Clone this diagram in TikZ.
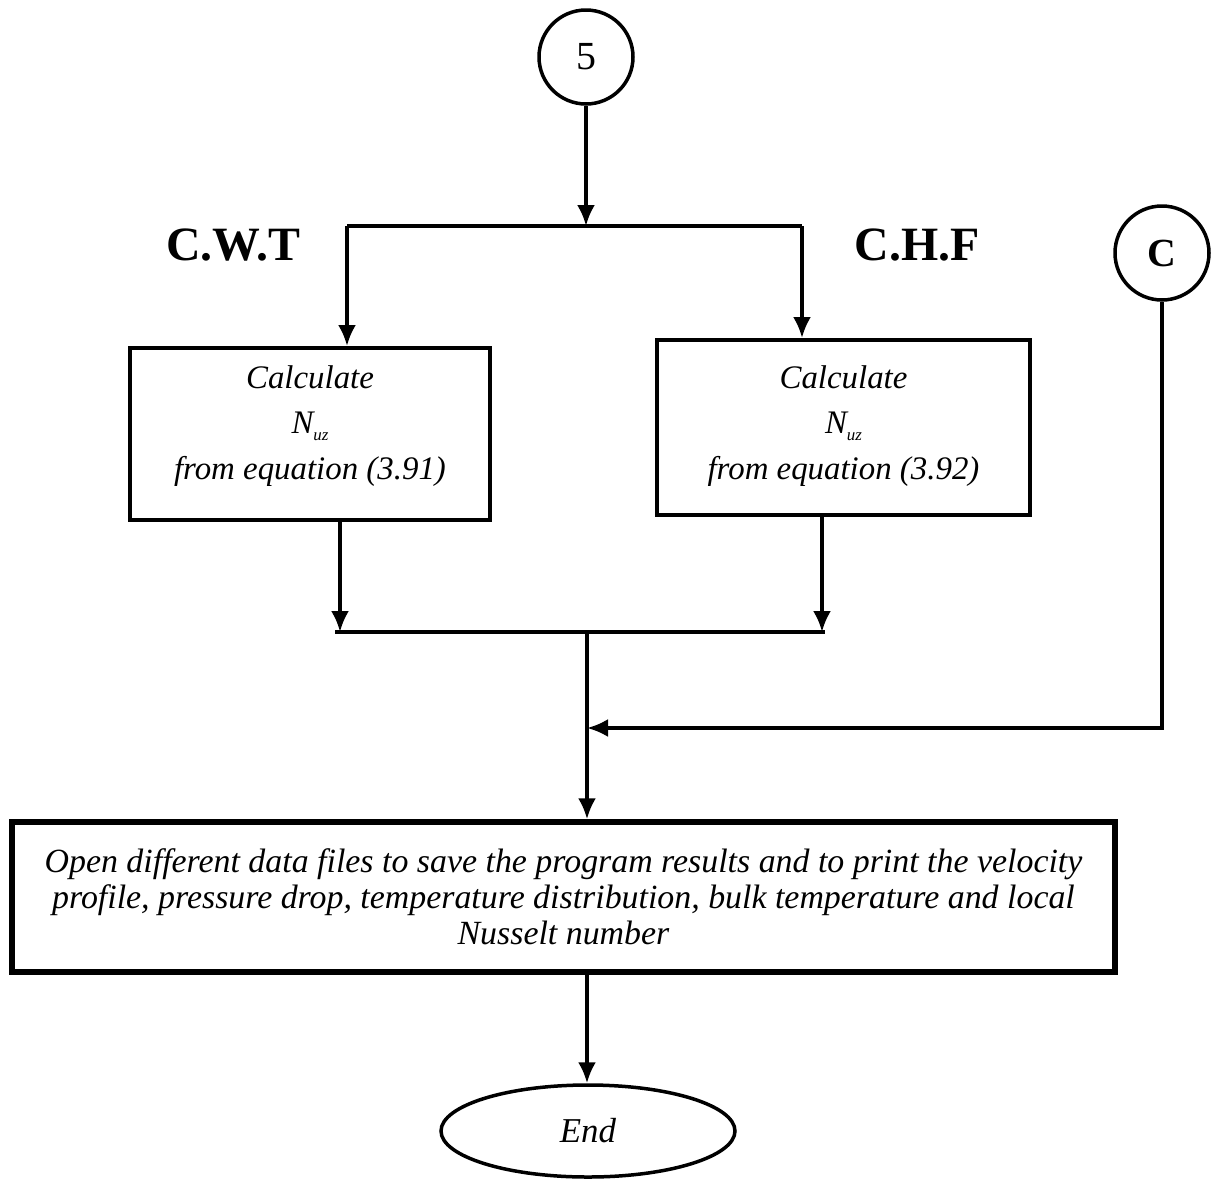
\documentclass[tikz,border=0pt]{standalone}
\usepackage{fontspec}
\setmainfont{Liberation Serif}
\usepackage{tikz}
\usetikzlibrary{shapes,arrows.meta,positioning,calc}

\newcommand{\nuz}{N\raisebox{-7bp}{\fontsize{17}{17}\selectfont uz}}

\begin{document}
\begin{tikzpicture}[line join=miter,x=1bp,y=-1bp,
  flow/.style={-{Latex[length=21bp,width=18bp]}},
  conn/.style={circle,draw,line width=3.5bp,minimum size=94bp,inner sep=0pt},
  calcbox/.style={draw,line width=4bp,inner sep=0pt},
  boxtext/.style={align=center,font=\itshape\fontsize{33}{46}\selectfont},
  casetext/.style={font=\bfseries\fontsize{48}{50}\selectfont},
]
\pgfsetlinewidth{3.5bp}
\pgfsetcolor{black}
\useasboundingbox (0,0) rectangle (1214,1180);
% connectors
\node[conn,font=\fontsize{40}{42}\selectfont] (five) at (586,57) {5};
\node[conn,font=\bfseries\fontsize{40}{42}\selectfont] (cnode) at (1162,253) {C};
\node[casetext] (cwt) at (233,245) {C.W.T};
\node[casetext] (chf) at (917,245) {C.H.F};
% calculation boxes
\node[calcbox,minimum width=360bp,minimum height=172bp] (cwtbox) at (310,434) {};
\node[boxtext] (cwttext) at (310,426) {Calculate\\ \nuz\\ from equation (3.91)};
\node[calcbox,minimum width=373bp,minimum height=175bp] (chfbox) at (843.5,427.5) {};
\node[boxtext] (chftext) at (843.5,426) {Calculate\\ \nuz\\ from equation (3.92)};
% output
\node[draw,line width=5.5bp,minimum width=1103bp,minimum height=150bp,inner sep=0pt,
  align=center,font=\itshape\fontsize{34}{36}\selectfont] (outbox) at (563.5,897)
  {Open different data files to save the program results and to print the velocity\\
   profile, pressure drop, temperature distribution, bulk temperature and local\\
   Nusselt number};
\node[ellipse,draw,line width=3.5bp,minimum width=294bp,minimum height=92bp,
  font=\itshape\fontsize{35}{36}\selectfont] (endnode) at (588,1131) {End};
\coordinate (split) at (586,226);
\coordinate (wl) at (347,226);
\coordinate (wr) at (802,226);
\coordinate (dropL) at (340,632);
\coordinate (dropR) at (822,632);
\coordinate (mergeL) at (335,632);
\coordinate (mergeR) at (825,632);
\coordinate (merge) at (587,632);
\coordinate (joinpt) at (587,728);
 \draw [flow] (five) -- (split);
 \draw (wl) -- (wr);
 \draw [flow] (wl) -- (wl |- cwtbox.north);
 \draw [flow] (wr) -- (wr |- chfbox.north);
 \draw [flow] (dropL |- cwtbox.south) -- (dropL);
 \draw [flow] (dropR |- chfbox.south) -- (dropR);
 \draw (mergeL) -- (mergeR);
 \draw [flow] (merge) -- (merge |- outbox.north);
 \draw [flow] (cnode) |- (joinpt);
 \draw [flow] (merge |- outbox.south) -- (merge |- endnode.north);
\end{tikzpicture}
\end{document}
